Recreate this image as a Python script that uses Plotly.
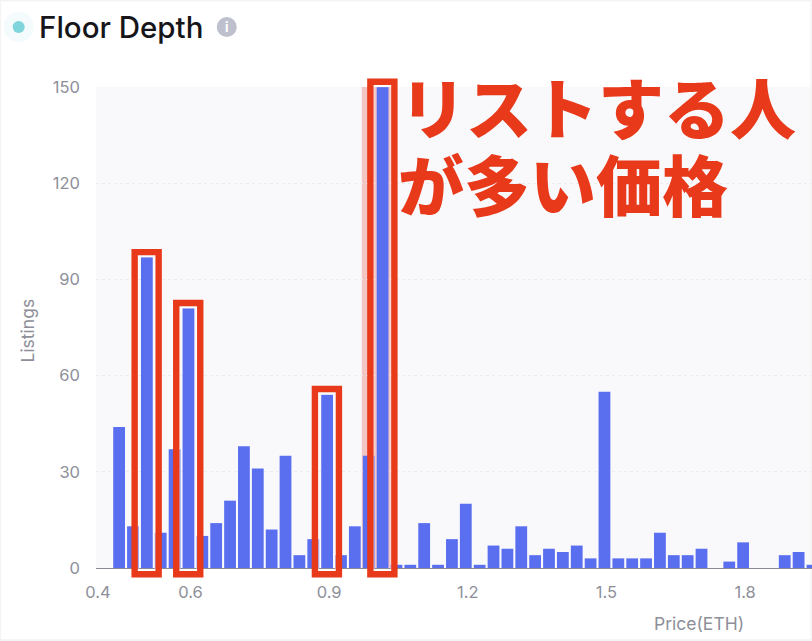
import plotly.graph_objects as go

WIDTH, HEIGHT = 812, 641
PLOT_L, PLOT_R, PLOT_T, PLOT_B = 96.3, 812, 87, 568.3
X_MIN, X_MAX = 0.4, 1.949

prices = [0.45, 0.48, 0.51, 0.54, 0.57, 0.60, 0.63, 0.66, 0.69, 0.72, 0.75, 0.78, 0.81, 0.84,
          0.87, 0.90, 0.93, 0.96, 0.99, 1.02, 1.05, 1.08, 1.11, 1.14, 1.17, 1.20, 1.23, 1.26,
          1.29, 1.32, 1.35, 1.38, 1.41, 1.44, 1.47, 1.50, 1.53, 1.56, 1.59, 1.62, 1.65, 1.68,
          1.71, 1.74, 1.77, 1.80, 1.83, 1.86, 1.89, 1.92, 1.95]
listings = [44, 13, 97, 11, 37, 81, 10, 14, 21, 38, 31, 12, 35, 4,
            9, 54, 4, 13, 35, 150, 1, 1, 14, 1, 9, 20, 1, 7,
            6, 13, 4, 6, 5, 7, 3, 55, 3, 3, 3, 11, 4, 4,
            6, 0, 2, 8, 0, 0, 4, 5, 1]
x_ticks = [0.4, 0.6, 0.9, 1.2, 1.5, 1.8]
y_ticks = [0, 30, 60, 90, 120, 150]
highlighted_prices = [0.51, 0.60, 0.90, 1.02]
highlighted_tops = [249, 300, 386, 78.5]

BAR = "#5A6EF0"
RED = "#E8391A"
GRAY = "#8E8F99"


def px(v):
    return (v - PLOT_L) / (PLOT_R - PLOT_L)


def py(v):
    return (PLOT_B - v) / (PLOT_B - PLOT_T)


def canvas_x(v):
    return PLOT_L + (v - X_MIN) / (X_MAX - X_MIN) * (PLOT_R - PLOT_L)


def box(x0, y0, x1, y1, **kw):
    return dict(type="rect", xref="paper", yref="paper", x0=px(x0), x1=px(x1), y0=py(y0), y1=py(y1), **kw)


def disc(cx, cy, r, color):
    return dict(type="circle", xref="paper", yref="paper", x0=px(cx - r), x1=px(cx + r),
                y0=py(cy + r), y1=py(cy - r), fillcolor=color, line_width=0, layer="above")


fig = go.Figure(go.Bar(x=prices, y=listings, width=0.0255, marker=dict(color=BAR, line_width=0)))

shapes = [
    box(0.5, 0.5, 811.5, 640.5, line=dict(color="#F4F4F4", width=2), layer="below"),
    box(362, 87, 392, 568, fillcolor="#F3C6C6", line_width=0, layer="below"),
    disc(19, 27, 15, "#F3FBFC"),
    disc(19, 27, 6, "#7FD5DB"),
    disc(227, 27, 10, "#BEC0CE"),
]
for price, top in zip(highlighted_prices, highlighted_tops):
    cx = canvas_x(price) - 0.2
    shapes.append(box(cx - 8.8, top + 8, cx + 8.8, 570.5, line=dict(color="rgba(255,255,255,0.55)", width=1.5), layer="above"))
    shapes.append(box(cx - 12, top + 3.2, cx + 12, 574.5, line=dict(color=RED, width=6.4), layer="above"))


def note(text, x, y, size, color, xanchor="left", **kw):
    font = dict(size=size, color=color, family=kw.pop("family", "Inter, Lato, sans-serif"), weight=kw.pop("weight", 400))
    return dict(text=text, xref="paper", yref="paper", x=px(x), y=py(y), xanchor=xanchor, yanchor="middle",
                showarrow=False, font=font, **kw)


annotations = [
    note("Floor Depth", 37, 27, 29.5, "#15151A", weight=500),
    note("i", 227, 27, 13, "#FFFFFF", xanchor="center", weight=700),
    note("Listings", 28, 331, 17.5, GRAY, xanchor="center", textangle=-90),
    note("Price(ETH)", 652, 624, 17.5, GRAY),
    note("リストする人", 398, 105, 66, RED, family="Noto Sans CJK JP", weight=900),
    note("が多い価格", 396, 182, 66, RED, family="Noto Sans CJK JP", weight=900),
]

fig.update_layout(
    width=WIDTH, height=HEIGHT, autosize=False,
    margin=dict(l=PLOT_L, r=WIDTH - PLOT_R, t=PLOT_T, b=HEIGHT - PLOT_B, pad=0),
    paper_bgcolor="#FFFFFF", plot_bgcolor="#F9F9FC",
    showlegend=False, shapes=shapes, annotations=annotations,
    font=dict(family="Inter, Lato, sans-serif", size=16.5, color=GRAY),
    xaxis=dict(range=[X_MIN, X_MAX], tickvals=x_ticks, ticktext=[f"{v:.1f}" for v in x_ticks],
               showgrid=False, zeroline=False, showline=True, linecolor="#8A8A94", linewidth=1,
               ticks="", ticklabelstandoff=9, ticklabelshift=2, tickfont=dict(size=16.5, color=GRAY)),
    yaxis=dict(range=[0, 150], tickvals=y_ticks, showgrid=True, gridcolor="#ECECF0", gridwidth=1,
               griddash="dot", zeroline=False, showline=False,
               ticks="", ticklabelstandoff=15, tickfont=dict(size=16.5, color=GRAY)),
)

fig.write_html("out.html", config=dict(displayModeBar=False),
               post_script="document.body.style.margin='0';")
